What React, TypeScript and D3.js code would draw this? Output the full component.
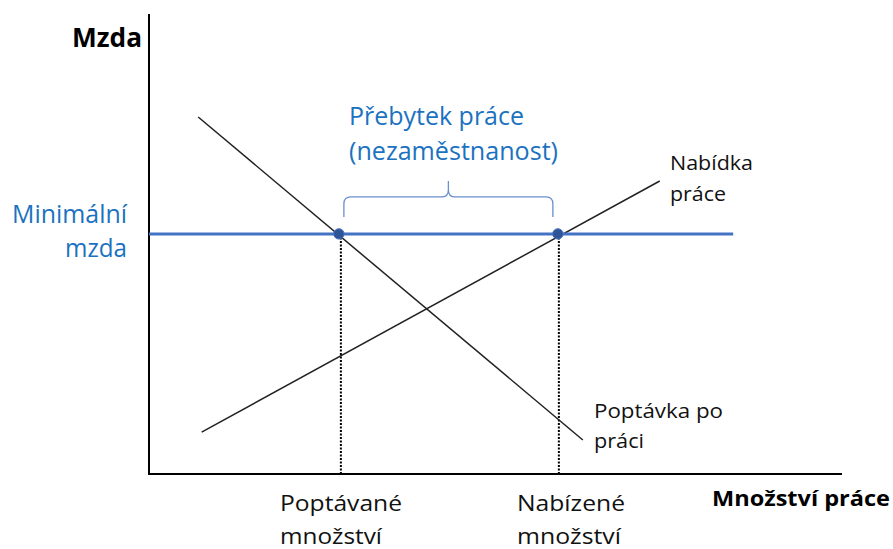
import React from "react";
import * as d3 from "d3";

// Conceptual diagram in arbitrary units (quantity 0..100, wage 0..100)
const demandPoints: [number, number][] = [
  [7.1, 77.6],
  [62.6, 7.4],
];
const supplyPoints: [number, number][] = [
  [7.6, 9.1],
  [73.7, 63.7],
];
const minWage = 52.2;
const minWageEnd = 84.3;
const quantityDemanded = 27.4;
const quantitySupplied = 59.0;

const axisLabels = ["Mzda", "Množství práce"];
const curveLabels = [
  ["Nabídka", "práce"],
  ["Poptávka po", "práci"],
];
const quantityLabels = [
  ["Poptávané", "množství"],
  ["Nabízené", "množství"],
];
const minWageLabel = ["Minimální", "mzda"];
const surplusLabel = ["Přebytek práce", "(nezaměstnanost)"];

const W = 893;
const H = 549;
const FONT = "'Open Sans', Lato, sans-serif";
const BLUE_TEXT = "#1B72C0";

type TProps = {
  x: number;
  y: number;
  size: number;
  w: number;
  fill: string;
  anchor?: "start" | "end";
  bold?: boolean;
  children: string;
};

function T({ x, y, size, w, fill, anchor = "start", bold, children }: TProps) {
  return (
    <text
      x={x}
      y={y}
      fontSize={size}
      fill={fill}
      textAnchor={anchor}
      fontWeight={bold ? "bold" : "normal"}
      textLength={w}
      lengthAdjust="spacingAndGlyphs"
    >
      {children}
    </text>
  );
}

export default function App() {
  const x = d3.scaleLinear().domain([0, 100]).range([149, 842]);
  const y = d3.scaleLinear().domain([0, 100]).range([474, 14]);
  const line = d3
    .line<[number, number]>()
    .x((d) => x(d[0]))
    .y((d) => y(d[1]));

  const xd = x(quantityDemanded);
  const xs = x(quantitySupplied);
  const yw = y(minWage);

  // curly bracket above the surplus
  const bL = xd + 5;
  const bR = xs - 5;
  const bM = (bL + bR) / 2;
  const bTop = yw - 37;
  const bBottom = yw - 17;
  const r = 7;
  const bracket = `M${bL},${bBottom} L${bL},${bTop + r} Q${bL},${bTop} ${bL + r},${bTop} L${bM - r},${bTop} Q${bM},${bTop} ${bM},${bTop - r} L${bM},${bTop - 16} M${bM},${bTop - r} Q${bM},${bTop} ${bM + r},${bTop} L${bR - r},${bTop} Q${bR},${bTop} ${bR},${bTop + r} L${bR},${bBottom}`;

  return (
    <svg
      width={W}
      height={H}
      style={{ position: "absolute", left: 0, top: 0, background: "#fff" }}
      fontFamily={FONT}
    >
      {/* axes */}
      <line x1={x(0)} x2={x(0)} y1={y(100)} y2={y(0) + 1} stroke="#000" strokeWidth={2} />
      <line x1={x(0)} x2={x(100)} y1={y(0)} y2={y(0)} stroke="#000" strokeWidth={2} />

      {/* dotted drop lines */}
      <line x1={xd + 2} x2={xd + 2} y1={yw} y2={y(0)} stroke="#000" strokeWidth={2} strokeDasharray="2,1.5" />
      <line x1={xs + 1} x2={xs + 1} y1={yw} y2={y(0)} stroke="#000" strokeWidth={2} strokeDasharray="2,1.5" />

      {/* demand & supply */}
      <path d={line(demandPoints) ?? ""} stroke="#222" strokeWidth={1.5} fill="none" />
      <path d={line(supplyPoints) ?? ""} stroke="#222" strokeWidth={1.5} fill="none" />

      {/* minimum wage */}
      <line x1={x(0)} x2={x(minWageEnd)} y1={yw} y2={yw} stroke="#4472C4" strokeWidth={3} />
      <circle cx={xd} cy={yw} r={5.2} fill="#2F5597" stroke="#4472C4" strokeWidth={1} />
      <circle cx={xs} cy={yw} r={5.2} fill="#2F5597" stroke="#4472C4" strokeWidth={1} />

      {/* bracket */}
      <path d={bracket} fill="none" stroke="#6A8FD0" strokeWidth={1.3} />

      {/* texts */}
      <T x={72} y={47} size={27} w={70} fill="#000" bold>{axisLabels[0]}</T>
      <T x={712} y={506} size={22} w={178} fill="#000" bold>{axisLabels[1]}</T>

      <T x={12} y={223} size={25} w={115} fill={BLUE_TEXT}>{minWageLabel[0]}</T>
      <T x={65} y={257} size={25} w={62} fill={BLUE_TEXT}>{minWageLabel[1]}</T>

      <T x={349} y={125} size={25} w={175} fill={BLUE_TEXT}>{surplusLabel[0]}</T>
      <T x={349} y={160} size={25} w={209} fill={BLUE_TEXT}>{surplusLabel[1]}</T>

      <T x={670} y={170} size={19.5} w={83} fill="#111">{curveLabels[0][0]}</T>
      <T x={670} y={201} size={19.5} w={56} fill="#111">{curveLabels[0][1]}</T>
      <T x={594} y={418} size={19.5} w={129} fill="#111">{curveLabels[1][0]}</T>
      <T x={594} y={448} size={19.5} w={50} fill="#111">{curveLabels[1][1]}</T>

      <T x={280} y={511} size={22} w={122} fill="#111">{quantityLabels[0][0]}</T>
      <T x={280} y={544} size={22} w={102} fill="#111">{quantityLabels[0][1]}</T>
      <T x={517} y={511} size={22} w={108} fill="#111">{quantityLabels[1][0]}</T>
      <T x={517} y={544} size={22} w={104} fill="#111">{quantityLabels[1][1]}</T>
    </svg>
  );
}
